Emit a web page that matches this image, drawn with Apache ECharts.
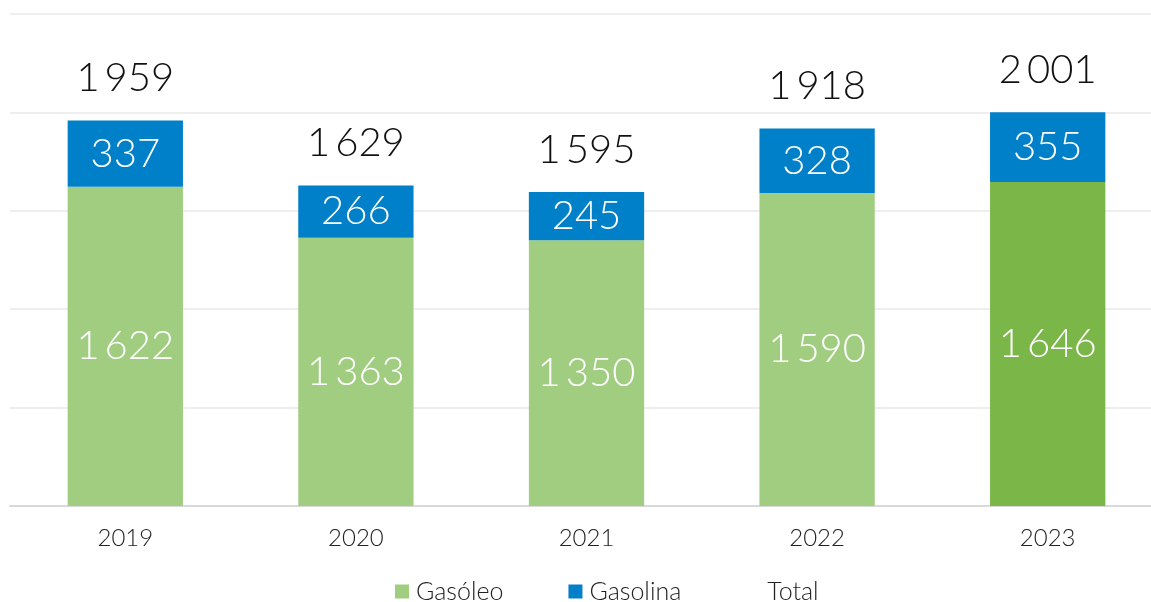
<!DOCTYPE html>
<html>
<head>
<meta charset="utf-8">
<script src="https://cdn.jsdelivr.net/npm/echarts@6/dist/echarts.min.js"></script>
<style>
  html, body { margin: 0; padding: 0; background: #fff; }
  #chart { width: 1151px; height: 602px; }
</style>
</head>
<body>
<div id="chart"></div>
<script>
const years = ['2019', '2020', '2021', '2022', '2023'];
const gasoleo = [1622, 1363, 1350, 1590, 1646];
const gasolina = [337, 266, 245, 328, 355];
const totals = [1959, 1629, 1595, 1918, 2001];

const FONT = 'Lato';
const fmt = function (v) {
  return String(v).replace(/\B(?=(\d{3})+(?!\d))/g, '\u2009');
};

const chart = echarts.init(document.getElementById('chart'));
chart.setOption({
  animation: false,
  textStyle: { fontFamily: FONT },
  grid: { left: 10, width: 1153, top: 14, bottom: 96, outerBoundsMode: 'none' },
  legend: {
    top: 574,
    left: 390,
    itemWidth: 14,
    itemHeight: 14,
    itemGap: 65,
    textStyle: { fontSize: 25, color: '#222', fontFamily: FONT, fontWeight: 300, padding: [0, 0, 0, 2] },
    data: [
      { name: 'Gasóleo', icon: 'rect' },
      { name: 'Gasolina', icon: 'rect' },
      { name: 'Total', icon: 'rect', itemStyle: { color: 'rgba(0,0,0,0)' } }
    ]
  },
  xAxis: {
    type: 'category',
    data: years,
    axisTick: { show: false },
    axisLine: { lineStyle: { color: '#d9d9d9', width: 2 } },
    axisLabel: { margin: 20, fontSize: 24, color: '#222', fontFamily: FONT, fontWeight: 300 }
  },
  yAxis: {
    type: 'value',
    min: 0,
    max: 2500,
    interval: 500,
    axisLabel: { show: false },
    axisLine: { show: false },
    axisTick: { show: false },
    splitLine: { lineStyle: { color: '#eeeeee', width: 2 } }
  },
  series: [
    {
      name: 'Gasóleo',
      type: 'bar',
      stack: 'a',
      barWidth: '50%',
      itemStyle: { color: '#a0cd80' },
      data: gasoleo.map(function (v, i) {
        return i === 4 ? { value: v, itemStyle: { color: '#7ab648' } } : v;
      }),
      label: {
        show: true, position: 'inside', color: '#fff', fontSize: 40,
        fontFamily: FONT, fontWeight: 300,
        formatter: function (p) { return fmt(p.value); }
      }
    },
    {
      name: 'Gasolina',
      type: 'bar',
      stack: 'a',
      itemStyle: { color: '#0080c8' },
      data: gasolina,
      label: {
        show: true, position: 'inside', color: '#fff', fontSize: 40,
        fontFamily: FONT, fontWeight: 300,
        formatter: function (p) { return fmt(p.value); }
      }
    },
    {
      name: 'Total',
      type: 'bar',
      stack: 'a',
      itemStyle: { color: 'rgba(0,0,0,0)' },
      data: totals.map(function () { return 0; }),
      label: {
        show: true, position: 'top', distance: 22, color: '#111', fontSize: 40,
        fontFamily: FONT, fontWeight: 300,
        formatter: function (p) { return fmt(totals[p.dataIndex]); }
      }
    }
  ]
});
</script>
</body>
</html>
